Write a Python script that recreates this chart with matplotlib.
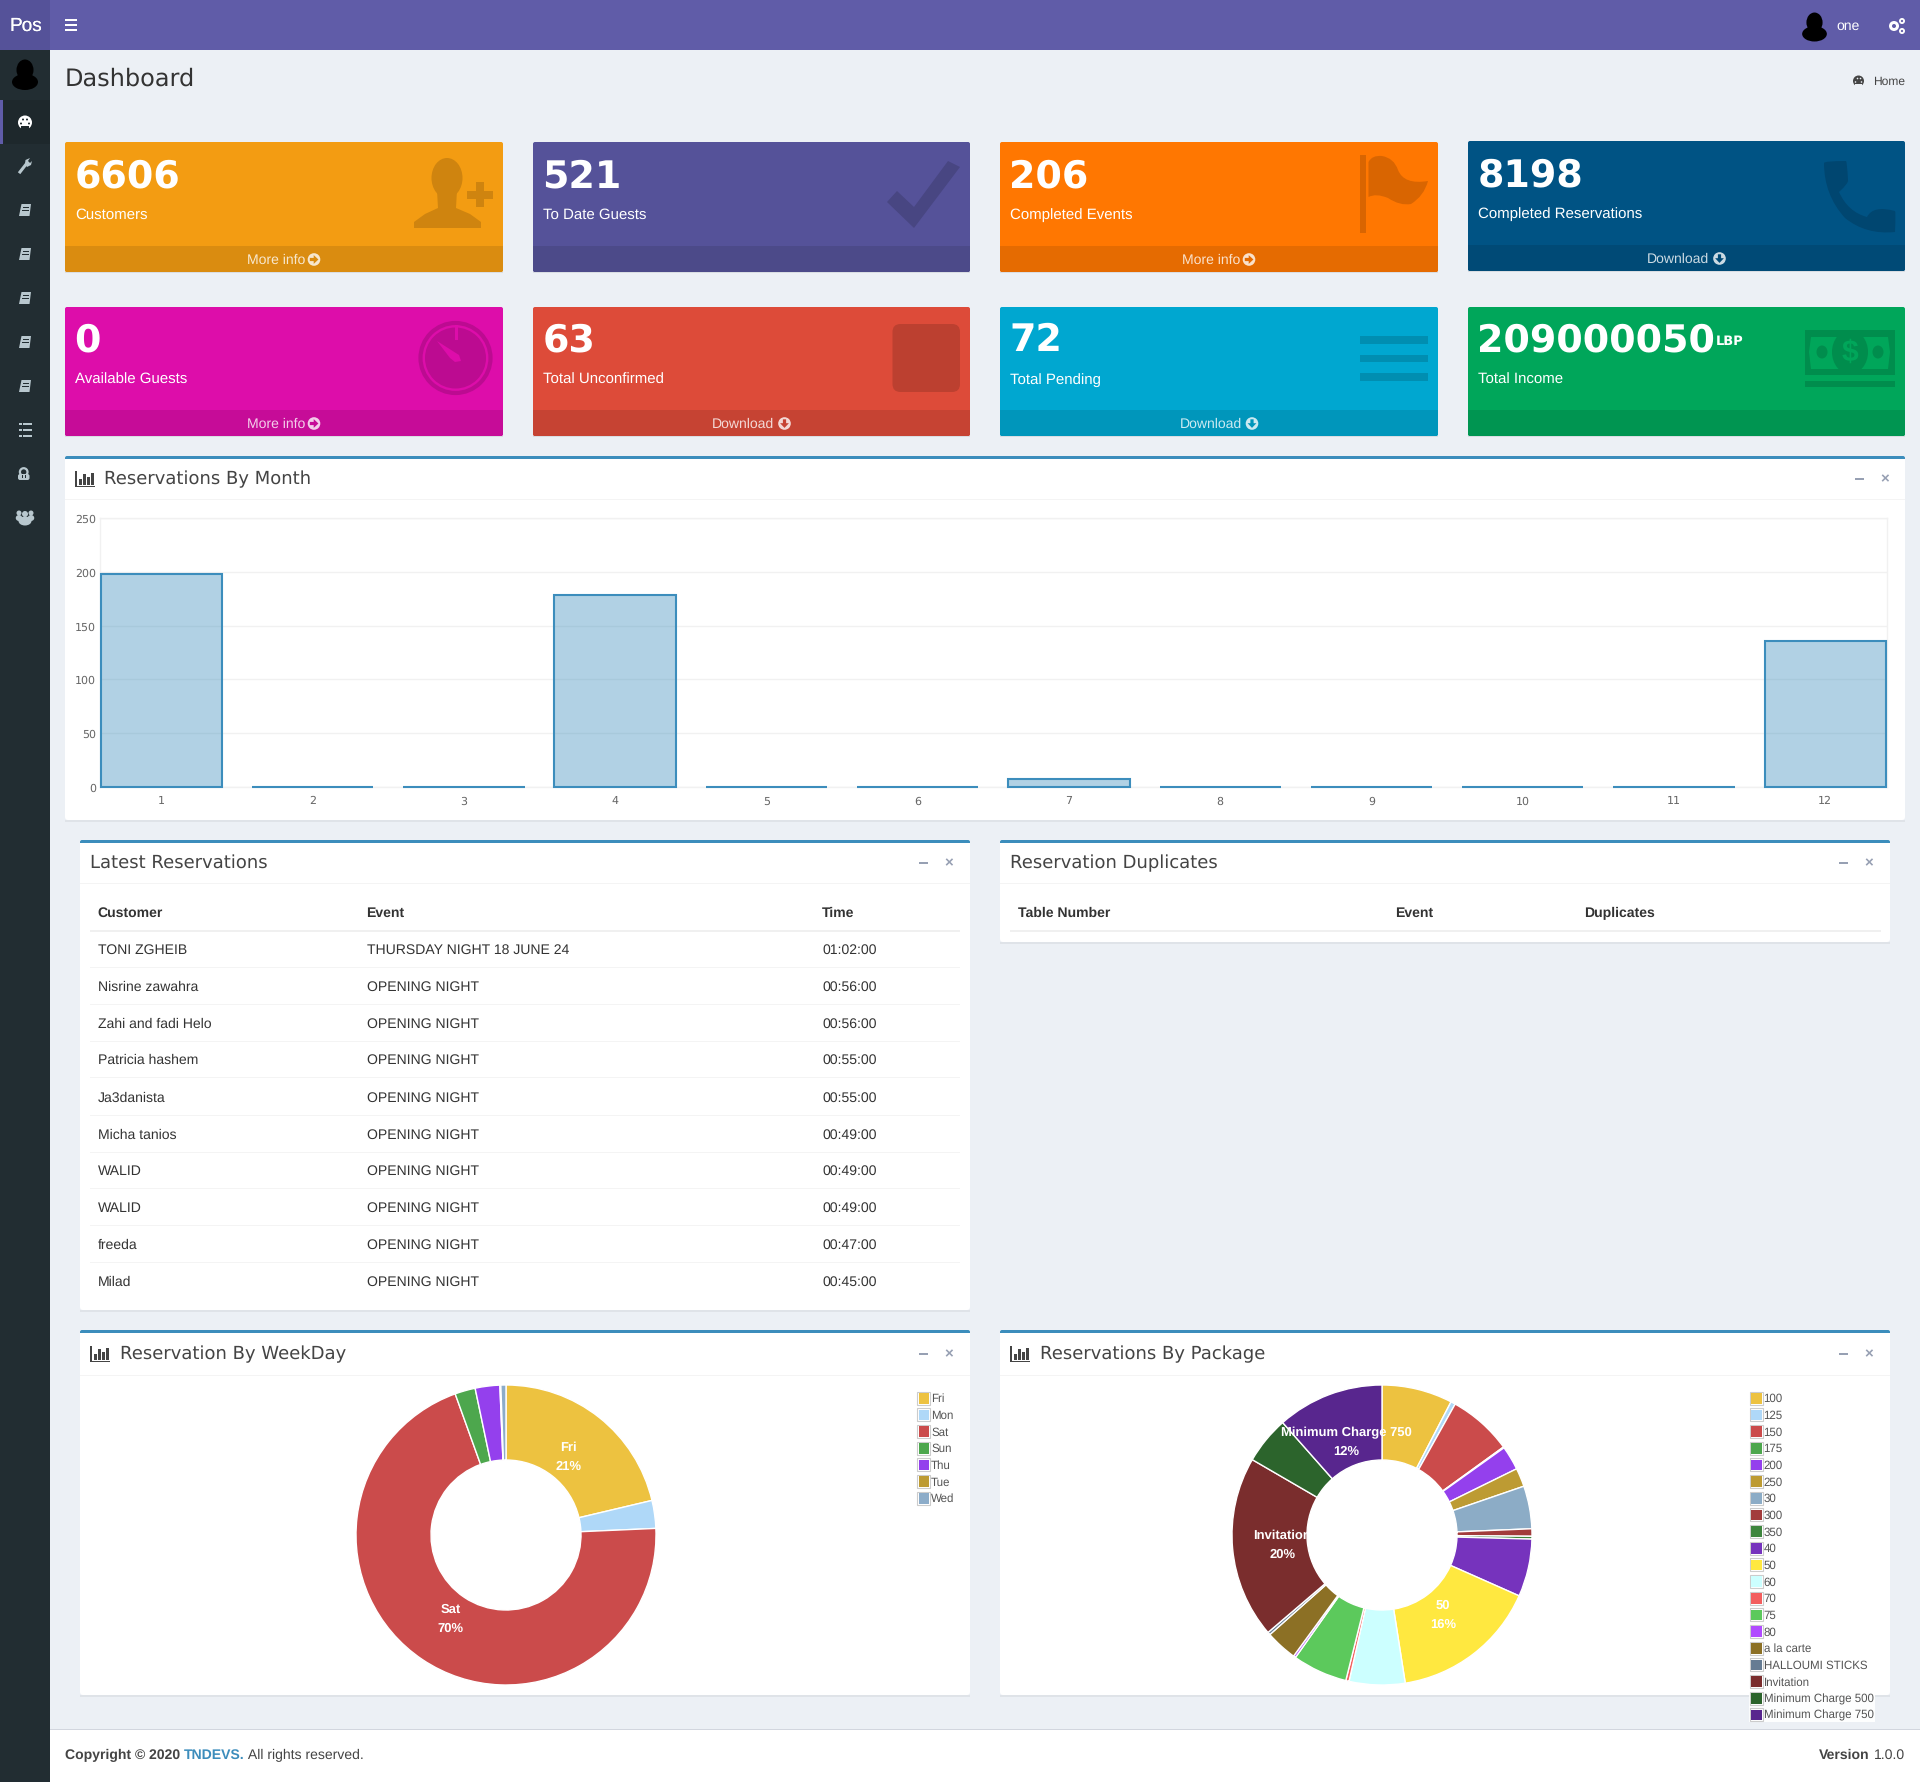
import matplotlib
matplotlib.use('Agg')
import numpy as np
import matplotlib.pyplot as plt
from matplotlib.patches import Rectangle, FancyBboxPatch, Ellipse, Circle, Polygon, PathPatch
from matplotlib.path import Path
from matplotlib.transforms import ScaledTranslation

plt.rcParams['font.family'] = ['Liberation Sans', 'DejaVu Sans']
plt.rcParams['text.hinting'] = 'no_hinting'

W, H = 1920, 1782
PX = 0.72  # css px -> pt at dpi 100

# chart data
months = list(range(1, 13))
month_values = [198, 0, 0, 178, 0, 0, 7, 0, 0, 0, 0, 136]

weekdays = ['Fri', 'Mon', 'Sat', 'Sun', 'Thu', 'Tue', 'Wed']
weekday_values = [21.3, 3.0, 70.2, 2.2, 2.65, 0.1, 0.55]
weekday_colors = ['#edc240', '#afd8f8', '#cb4b4b', '#4da74d', '#9440ed', '#bd9b33', '#8cacc9']
weekday_labelled = ['Fri', 'Sat']

packages = ['100', '125', '150', '175', '200', '250', '30', '300', '350', '40', '50', '60', '70', '75', '80',
            'a la carte', 'HALLOUMI STICKS', 'Invitation', 'Minimum Charge 500', 'Minimum Charge 750']
package_values = [7.6, 0.5, 6.9, 0.1, 2.6, 2.0, 4.6, 0.8, 0.3, 6.2, 15.85, 6.0, 0.35, 5.9, 0.25,
                  3.4, 0.3, 19.6, 5.1, 11.5]
package_colors = ['#edc240', '#afd8f8', '#cb4b4b', '#4da74d', '#9440ed', '#bd9b33', '#8cacc6', '#a23c3c',
                  '#3d853d', '#7633bd', '#ffe840', '#ccffff', '#f35e5e', '#5cc95c', '#b14bff', '#8c7025',
                  '#667c93', '#7a2d2d', '#2c642c', '#58268e']
package_labelled = ['50', 'Invitation', 'Minimum Charge 750']

# table data
res_customers = ['TONI ZGHEIB', 'Nisrine zawahra', 'Zahi and fadi Helo', 'Patricia hashem', 'Ja3danista',
                 'Micha tanios', 'WALID', 'WALID', 'freeda', 'Milad']
res_events = ['THURSDAY NIGHT 18 JUNE 24'] + ['OPENING NIGHT'] * 9
res_times = ['01:02:00', '00:56:00', '00:56:00', '00:55:00', '00:55:00', '00:49:00', '00:49:00', '00:49:00',
             '00:47:00', '00:45:00']
dup_columns = ['Table Number', 'Event', 'Duplicates']

# info boxes
card_numbers = ['6606', '521', '206', '8198', '0', '63', '72', '209000050']
card_labels = ['Customers', 'To Date Guests', 'Completed Events', 'Completed Reservations',
               'Available Guests', 'Total Unconfirmed', 'Total Pending', 'Total Income']
card_links = ['More info', '', 'More info', 'Download', 'More info', 'Download', 'Download', '']
card_colors = ['#f39c12', '#555299', '#ff7701', '#005384', '#dd0daa', '#dd4b39', '#00a7d0', '#00a65a']
card_footers = ['#da8c10', '#4c4a89', '#e56b01', '#004a76', '#c60c98', '#c64333', '#0096bb', '#009551']
card_icons = ['#cf840f', '#484682', '#d96501', '#004670', '#bc0b91', '#bc4030', '#008eb1', '#008d4d']

fig = plt.figure(figsize=(W / 100, H / 100), dpi=100, facecolor='#ecf0f5')
page = fig.add_axes([0, 0, 1, 1])
page.set_xlim(0, W)
page.set_ylim(H, 0)
page.axis('off')


def box(x0, y0, x1, y1, color, z=1, **kw):
    page.add_patch(Rectangle((x0, y0), x1 - x0, y1 - y0, fc=color, ec='none', zorder=z, **kw))


def rbox(x0, y0, x1, y1, color, r=3, z=1):
    page.add_patch(FancyBboxPatch((x0 + r, y0 + r), x1 - x0 - 2 * r, y1 - y0 - 2 * r,
                                  boxstyle=f'round,pad={r},rounding_size={r}', fc=color, ec='none', zorder=z))


def poly(points, color, z=3):
    page.add_patch(Polygon(points, closed=True, fc=color, ec='none', zorder=z))


def oval(cx, cy, w, h, color, z=3):
    page.add_patch(Ellipse((cx, cy), w, h, fc=color, ec='none', zorder=z))


def label(x, y, s, px=14, color='#333333', ha='left', va='center', weight='normal', family=None, z=5, alpha=None):
    kw = {'family': family} if family else {}
    if family is None and va == 'center':
        y += 1.3  # liberation sits a little low in the browser
    return page.text(x, y, s, fontsize=px * PX, color=color, ha=ha, va=va, fontweight=weight, zorder=z,
                     alpha=alpha, **kw)


def avatar(cx, top, scale=1.0):
    oval(cx, top + 10 * scale, 17 * scale, 21 * scale, '#000000')
    oval(cx, top + 22 * scale, 26 * scale, 16 * scale, '#000000')


def chart_icon(x, y):
    box(x, y, x + 1.5, y + 16, '#444444', z=4)
    box(x, y + 15, x + 20, y + 16.5, '#444444', z=4)
    for dx, top in zip([4, 8, 12, 16], [8, 3, 6, 2]):
        box(x + dx, y + top, x + dx + 2.5, y + 14, '#444444', z=4)


def link_icon(cx, cy, kind, color, hole):
    page.add_patch(Circle((cx, cy), 6.3, fc=color, ec='none', zorder=6))
    if kind == 'More info':
        poly([(cx - 4.2, cy - 1.6), (cx - 0.3, cy - 1.6), (cx - 0.3, cy - 4.4), (cx + 4.4, cy), (cx - 0.3, cy + 4.4),
              (cx - 0.3, cy + 1.6), (cx - 4.2, cy + 1.6)], hole, z=7)
    else:
        poly([(cx - 1.6, cy - 4.2), (cx + 1.6, cy - 4.2), (cx + 1.6, cy - 0.3), (cx + 4.4, cy - 0.3), (cx, cy + 4.4),
              (cx - 4.4, cy - 0.3), (cx - 1.6, cy - 0.3)], hole, z=7)


def curve(points, color, z=3):
    # points: start then (ctrl, end) pairs
    verts = [points[0]]
    codes = [Path.MOVETO]
    for p in points[1:]:
        verts.append(p)
        codes.append(Path.CURVE3)
    if len(points) % 2 == 0:
        verts.append(points[-1])
        codes.append(Path.LINETO)
    verts.append(points[0])
    codes.append(Path.CLOSEPOLY)
    page.add_patch(PathPatch(Path(verts, codes), fc=color, ec='none', zorder=z))


# top bar and sidebar
box(0, 0, 50, H, '#222d32')
box(0, 0, W, 50, '#605ca8')
box(0, 0, 50, 50, '#555299', z=2)
label(25.5, 25, 'Pos', 19, 'white', ha='center')
label(25.7, 25, 'Pos', 19, 'white', ha='center')
for yy in (20, 25, 30):
    box(65, yy - 1, 77, yy + 1, 'white', z=3)
avatar(25, 60)
avatar(1814.5, 13, 0.95)
label(1848, 25, 'one', 14, 'white', ha='center')
page.add_patch(Circle((1894, 26), 5, fc='white', ec='none', zorder=3))
page.add_patch(Circle((1894, 26), 2, fc='#605ca8', ec='none', zorder=4))
page.add_patch(Circle((1902, 21), 3, fc='white', ec='none', zorder=3))
page.add_patch(Circle((1902, 31), 3, fc='white', ec='none', zorder=3))
page.add_patch(Circle((1902, 21), 1.1, fc='#605ca8', ec='none', zorder=4))
page.add_patch(Circle((1902, 31), 1.1, fc='#605ca8', ec='none', zorder=4))

box(0, 100, 50, 144, '#1e282c', z=2)
box(0, 100, 3, 144, '#605ca8', z=3)
side = '#b8c7ce'
page.add_patch(Circle((25, 122.5), 7, fc='white', ec='none', zorder=3))
for dx, dy in [(-4, 1), (-2, -3), (2, -3), (4, 1)]:
    page.add_patch(Circle((25 + dx, 122.5 + dy), 1, fc='#1e282c', ec='none', zorder=4))
box(21, 126, 29, 130, '#1e282c', z=4)
page.plot([20, 27], [172, 163], color=side, lw=2.2, zorder=3)
poly([(25, 164), (25.5, 160), (30, 158), (28, 161), (30, 163), (32, 161), (31, 165), (27, 167)], side)
for yy in [210, 254, 298, 342, 386]:
    poly([(19, yy + 6), (21.5, yy - 6), (31, yy - 6), (29.5, yy + 6)], side)
    box(22.5, yy - 3, 29, yy - 2, '#222d32', z=4)
    box(22, yy, 28.5, yy + 1, '#222d32', z=4)
for yy in [424, 430, 436]:
    box(19, yy - 1.3, 21.5, yy + 1.3, side, z=3)
    box(23, yy - 1.3, 32, yy + 1.3, side, z=3)
rbox(18, 474, 29.5, 480, side, 2, z=3)
page.add_patch(Circle((23.7, 472), 3.8, fc='none', ec=side, lw=1.6, zorder=3))
box(21.5, 475, 23, 478, '#222d32', z=4)
box(24.5, 475, 26, 478, '#222d32', z=4)
oval(25, 521, 13, 9, side)
oval(25, 514, 6, 6, side)
for dx in (-6, 6):
    oval(25 + dx, 513, 5, 5, side)
    oval(25 + dx, 518, 6.5, 6, side)

# page title
label(65, 79.5, 'Dashboard', 24, '#333333', family='DejaVu Sans')
label(1905, 80.5, 'Home', 12, '#444444', ha='right')
page.add_patch(Circle((1858.5, 81), 5.5, fc='#444444', ec='none', zorder=3))
for dx, dy in [(-3, 1), (-1, -2.5), (2, -2.5), (3, 1)]:
    page.add_patch(Circle((1858.5 + dx, 81 + dy), 0.8, fc='#ecf0f5', ec='none', zorder=4))
box(1855, 84, 1862, 87, '#ecf0f5', z=4)

# info boxes
card_x = [(65, 503), (533, 970), (1000, 1438), (1468, 1905)] * 2
card_y = [(142, 246, 272), (142, 246, 272), (142, 246, 272), (141, 245, 271),
          (307, 410, 436), (307, 410, 436), (307, 410, 436), (307, 410, 436)]
for i in range(8):
    x0, x1 = card_x[i]
    y0, ym, y1 = card_y[i]
    rbox(x0, y0, x1, y1, card_colors[i], 2, z=1)
    rbox(x0, ym, x1, y1, card_footers[i], 2, z=2)
    box(x0, ym, x1, ym + 5, card_footers[i], z=2)
    box(x0, y1, x1, y1 + 1, '#d9dde2', z=0.5)
    row2 = i >= 4
    label(x0 + 9.5, y0 + (44 if row2 else 45), card_numbers[i], 38, 'white', va='baseline', weight='bold',
          family='DejaVu Sans')
    label(x0 + 10, y0 + (72 if row2 else 72), card_labels[i], 15, 'white')
    if card_links[i]:
        cx = (x0 + x1) / 2
        off = 21 if card_links[i] == 'More info' else 23
        ic = 30 if card_links[i] == 'More info' else 33
        label(cx + off, (ym + y1) / 2 - 0.5, card_links[i], 14, 'white', ha='right', alpha=0.8)
        link_icon(cx + ic, (ym + y1) / 2 + 0.5, card_links[i], '#ffffffcc', card_footers[i])
label(1716, 341, 'LBP', 13, 'white', weight='bold', family='DejaVu Sans')

# card icons
c = card_icons[0]
oval(447, 178, 31, 40, c)
poly([(437, 190), (457, 190), (456, 208), (470, 214), (481, 222), (481, 228), (414, 228), (414, 222), (425, 214), (438, 208)], c)
box(476, 182, 484, 207, c, z=3)
box(467, 190.5, 493, 198.5, c, z=3)
poly([(887, 202), (897, 191), (914, 207), (948, 161), (960, 167), (914, 228)], card_icons[1])
c = card_icons[2]
box(1360, 155, 1365.5, 233, c, z=3)
curve([(1368.5, 162), (1372, 155), (1382, 156), (1394, 158), (1398, 170), (1404, 185), (1428, 181), (1424, 196), (1411, 204),
       (1400, 206), (1388, 198), (1376, 193), (1368.5, 197)], c)
c = card_icons[3]
curve([(1824, 163), (1824, 161), (1846, 161), (1847, 161), (1848, 180), (1849, 183), (1839, 192), (1848, 212), (1867, 217),
       (1873, 205), (1895, 211), (1896, 211), (1895, 232), (1866, 235), (1845, 218), (1824, 195), (1824, 163)], c)
c = card_icons[4]
page.add_patch(Circle((455.5, 358), 35, fc='none', ec=c, lw=3, zorder=3))
page.add_patch(Circle((455.5, 358), 30.5, fc=c, ec='none', zorder=3))
box(455, 325, 457.5, 340, card_colors[4], z=4)
poly([(437, 341), (459, 355), (461, 361), (455, 362), (450, 358)], card_colors[4], z=4)
rbox(892.5, 324, 960, 392, card_icons[5], 8, z=3)
for y0, y1 in [(336, 343.7), (354.5, 362.3), (373, 380.7)]:
    box(1360, y0, 1428, y1, card_icons[6], z=3)
c = card_icons[7]
box(1805, 330, 1895, 375, c, z=3)
box(1805, 381, 1895, 387, c, z=3)
poly([(1811, 337), (1888, 337), (1890, 352), (1888, 369), (1811, 369), (1809, 352)], card_colors[7], z=4)
oval(1850, 352, 36, 44, c, z=5)
oval(1822, 352, 11, 13, c, z=5)
oval(1878, 352, 11, 13, c, z=5)
label(1850, 352, '$', 30, card_colors[7], ha='center', weight='bold', z=6)


# panels
def panel(x0, y0, x1, y1, title, header_y, title_x, icon=False):
    box(x0, y1, x1, y1 + 1.5, '#dfe3e8', z=0.6)
    rbox(x0, y0, x1, y1, '#ffffff', 3, z=1)
    rbox(x0, y0, x1, y0 + 8, '#3c8dbc', 2, z=2)
    box(x0, y0 + 3, x1, y0 + 9, '#ffffff', z=2.5)
    box(x0, header_y, x1, header_y + 1, '#f4f4f4', z=2)
    ty = (y0 + header_y) / 2 + 1.3
    label(title_x, ty, title, 18, '#444444', family='DejaVu Sans')
    if icon:
        chart_icon(x0 + 10, ty - 8)
    cx = x1 - 47
    if x1 == 1905:
        cx = 1859
    box(cx - 4, ty - 1, cx + 5, ty + 1.5, '#97a0b3', z=3)
    label(cx + 25.5, ty - 0.5, '×', 15, '#97a0b3', ha='center', weight='bold')


panel(65, 456, 1905, 820, 'Reservations By Month', 499, 104, True)
panel(80, 840, 970, 1310, 'Latest Reservations', 883, 90)
panel(1000, 840, 1890, 942, 'Reservation Duplicates', 883, 1010)
panel(80, 1330, 970, 1695, 'Reservation By WeekDay', 1375, 119.5, True)
panel(1000, 1330, 1890, 1695, 'Reservations By Package', 1375, 1039.5, True)

# bar chart
ax = fig.add_axes([100 / W, 1 - 787 / H, (1887 - 100) / W, (787 - 518) / H])
ax.set_zorder(3)
ax.patch.set_alpha(0)
ax.bar(months, month_values, width=0.803, color='#3c8dbc66', edgecolor='#3c8dbc', linewidth=1.5, clip_on=False, zorder=3)
ax.set_xlim(0.594, 12.408)
ax.set_ylim(0, 250)
ax.set_yticks([0, 50, 100, 150, 200, 250])
ax.set_xticks(months)
ax.grid(axis='y', color='#f1f1f1', lw=1)
ax.set_axisbelow(True)
ax.tick_params(length=0, labelsize=11 * PX, labelcolor='#666666', pad=3)
ax.tick_params(axis='x', pad=6.5)
nudge = ScaledTranslation(0, -0.7 / 100, fig.dpi_scale_trans)
for lab in ax.get_xticklabels() + ax.get_yticklabels():
    lab.set_family('DejaVu Sans')
for lab in ax.get_yticklabels():
    lab.set_transform(lab.get_transform() + nudge)
for s in ax.spines.values():
    s.set_color('#f1f1f1')
    s.set_linewidth(1)

# reservations table
col_x = [98, 367, 822]
for x, name in zip([97.5, 366.5, 822], ['Customer', 'Event', 'Time']):
    label(x, 912, name, 14, '#333333', weight='bold')
box(90, 930, 960, 932, '#f0f0f0', z=2)
row_y = [949, 986, 1022.5, 1059, 1096.5, 1134, 1170, 1207, 1244, 1281]
for i, yy in enumerate(row_y):
    label(col_x[0], yy, res_customers[i], 14)
    label(col_x[1], yy, res_events[i], 14)
    label(col_x[2], yy, res_times[i], 14)
    if i < 9:
        box(90, yy + 18, 960, yy + 19, '#f4f4f4', z=2)
for x, name in zip([1018.5, 1395.5, 1584.5], dup_columns):
    label(x, 912, name, 14, '#333333', weight='bold')
box(1010, 930, 1881, 932, '#f0f0f0', z=2)


# donuts
def donut(cx, cy, names, values, colors, labelled):
    R = 150
    m = 160
    a = fig.add_axes([(cx - m) / W, 1 - (cy + m) / H, 2 * m / W, 2 * m / H])
    a.set_zorder(3)
    a.pie(values, colors=colors, startangle=90, counterclock=False, radius=1,
          wedgeprops={'width': 0.5, 'edgecolor': 'white', 'linewidth': 1})
    a.set_xlim(-m / R, m / R)
    a.set_ylim(-m / R, m / R)
    a.set_aspect('equal')
    a.patch.set_alpha(0)
    total = sum(values)
    acc = np.cumsum([0] + values)
    for n in labelled:
        i = names.index(n)
        mid = (acc[i] + values[i] / 2) / total * 2 * np.pi
        tx, ty = 0.667 * np.sin(mid), 0.667 * np.cos(mid) - 0.005
        a.text(tx, ty + 0.064, n, color='white', fontsize=13 * PX, fontweight='bold', ha='center', va='center')
        a.text(tx, ty - 0.064, f'{round(values[i] / total * 100)}%', color='white', fontsize=13 * PX,
               fontweight='bold', ha='center', va='center')


def flot_legend(x, names, colors, y0=1398, step=16.67, width=None):
    if width:
        box(x - 7, y0 - 9, x + width, y0 + step * len(names) - 9, '#ffffff', z=2, alpha=0.95)
    for i, (n, col) in enumerate(zip(names, colors)):
        yy = y0 + i * step
        page.add_patch(Rectangle((x - 6.5, yy - 6.5), 13, 13, fc='white', ec='#cccccc', lw=0.8, zorder=3))
        box(x - 5, yy - 5, x + 5.5, yy + 5.5, col, z=4)
        label(x + 7.5, yy - 0.3, n, 11.55, '#545454')


donut(506, 1535, weekdays, weekday_values, weekday_colors, weekday_labelled)
flot_legend(923.5, weekdays, weekday_colors)
donut(1382, 1535, packages, package_values, package_colors, package_labelled)
flot_legend(1756, packages, package_colors, width=119)

# footer
box(50, 1729, W, H, '#ffffff', z=1)
box(50, 1729, W, 1730, '#d2d6de', z=2)
fig.canvas.draw()
rend = fig.canvas.get_renderer()
xx = 65
for s, col, w in [('Copyright © ', '#444444', 'bold'), ('2020 ', '#444444', 'bold'), ('TNDEVS.', '#3c8dbc', 'bold'),
                  (' All rights reserved.', '#444444', 'normal')]:
    t = label(xx, 1754, s.replace(' ', '\u00a0'), 14, col, weight=w)
    xx += t.get_window_extent(rend).width - 0.2
t = label(1905, 1754, '1.0.0', 14, '#444444', ha='right')
label(1905 - t.get_window_extent(rend).width - 4, 1754, 'Version', 14, '#444444', ha='right', weight='bold')

fig.savefig('out.png', dpi=100, facecolor=fig.get_facecolor())
